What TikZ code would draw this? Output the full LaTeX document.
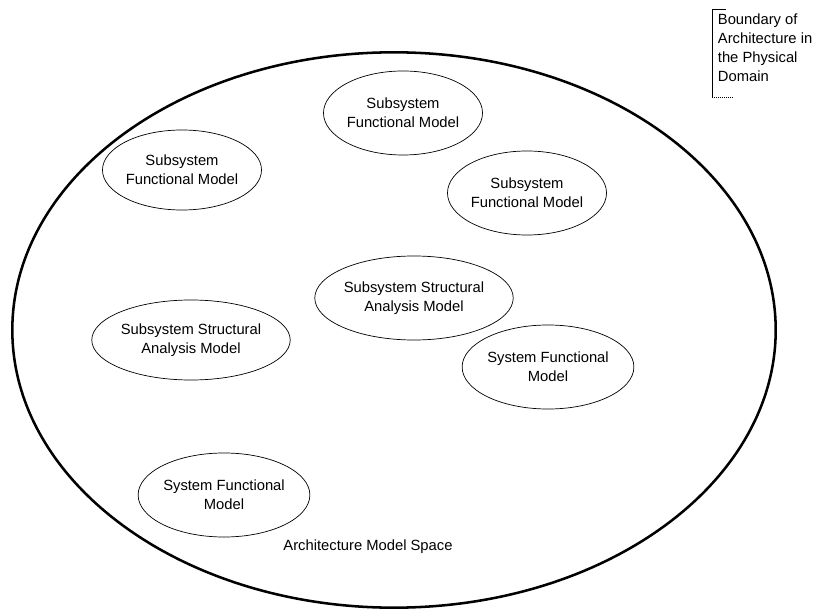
\documentclass[tikz,border=0pt]{standalone}
\usepackage{fontspec}
\setmainfont{Liberation Sans}
\usetikzlibrary{shapes.geometric, positioning}

\begin{document}
\begin{tikzpicture}[x=0.025cm, y=-0.025cm,
  model/.style={ellipse, draw, line width=0.5pt, align=center, inner sep=0pt,
    font=\fontsize{10.5}{13.5}\selectfont},
  txt/.style={font=\fontsize{10.5}{13.5}\selectfont}]
\useasboundingbox (0,0) rectangle (826,609);

\node (space) [ellipse, draw, line width=1.8pt, minimum width=19.08cm, minimum height=13.88cm] at (394,330) {};

\node (SF1) [model, minimum width=3.3cm, minimum height=2.1cm] at (403,113) {Subsystem\\Functional Model};
\node (SF2) [model, minimum width=3.05cm, minimum height=2.0cm] at (182,170) {Subsystem\\Functional Model};
\node (SF3) [model, minimum width=3.15cm, minimum height=2.1cm] at (527,193) {Subsystem\\Functional Model};
\node (SSA1) [model, minimum width=3.55cm, minimum height=2.1cm] at (414,298) {Subsystem Structural\\Analysis Model};
\node (SSA2) [model, minimum width=3.55cm, minimum height=2.0cm] at (191,340) {Subsystem Structural\\Analysis Model};
\node (SYF1) [model, minimum width=3.25cm, minimum height=2.1cm] at (548,367) {System Functional\\Model};
\node (SYF2) [model, minimum width=3.33cm, minimum height=2.1cm] at (224,495) {System Functional\\Model};

\node (AMS) [txt] at (368,547) {Architecture Model Space};

\node (bnd) [txt, anchor=north west, align=left, inner xsep=4pt, inner ysep=3pt] at (712,9) {Boundary of\\Architecture in\\the Physical\\Domain};
\draw[line width=0.4pt] ([xshift=10pt]bnd.north west) -- (bnd.north west) -- ([yshift=-8pt]bnd.south west);
\draw[line width=0.4pt, densely dotted] ([yshift=-8pt]bnd.south west) -- ++(20,0);
\end{tikzpicture}
\end{document}
